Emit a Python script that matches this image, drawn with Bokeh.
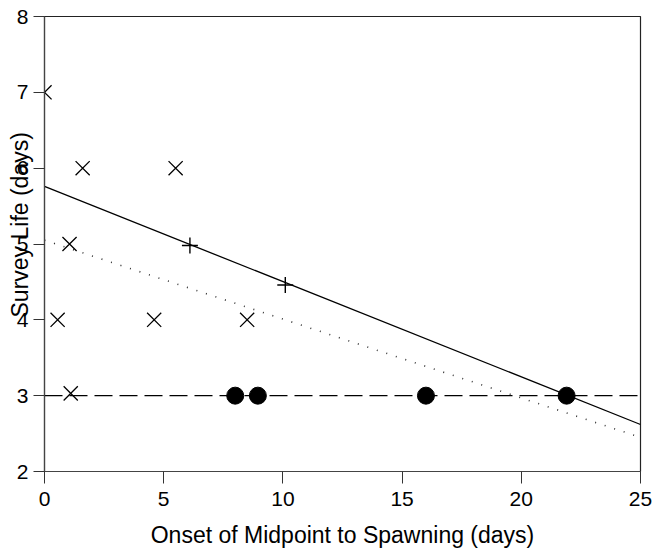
from bokeh.plotting import figure
from bokeh.models import Range1d, FixedTicker
from bokeh.embed import file_html
from bokeh.resources import INLINE

# Observed survey life versus onset of midpoint to spawning
cross_x = [0.0, 1.6, 5.5, 1.05, 0.55, 4.6, 8.5, 1.1]
cross_y = [7.0, 6.0, 6.0, 5.0, 4.0, 4.0, 4.0, 3.03]

plus_x = [6.1, 10.1]
plus_y = [4.98, 4.46]

dot_x = [8.0, 8.95, 16.0, 21.9]
dot_y = [3.0, 3.0, 3.0, 3.0]

# Fitted lines (values at the ends of the x range)
fit_x = [0, 25]
solid_y = [5.76, 2.62]
dotted_y = [5.05, 2.45]
dashed_y = [3.0, 3.0]

x_ticks = [0, 5, 10, 15, 20, 25]
y_ticks = [2, 3, 4, 5, 6, 7, 8]

FONT = "Liberation Sans"

p = figure(width=656, height=555, output_backend="svg", toolbar_location=None,
           x_range=Range1d(0, 25), y_range=Range1d(2, 8),
           min_border_left=44, min_border_right=16, min_border_top=16,
           min_border_bottom=84)
p.background_fill_color = "white"
p.border_fill_color = "white"
p.grid.visible = False
p.outline_line_color = "#222222"
p.outline_line_width = 1.2

for ax in (p.xaxis[0], p.yaxis[0]):
    ax.axis_line_color = "#444444"
    ax.axis_line_width = 1.2
    ax.major_tick_line_color = "#333333"
    ax.major_tick_in = 0
    ax.minor_tick_line_color = None
    ax.major_label_text_font = FONT
    ax.major_label_text_font_size = "21px"
    ax.major_label_text_color = "black"
    ax.axis_label_text_font = FONT
    ax.axis_label_text_font_size = "23px"
    ax.axis_label_text_font_style = "normal"
    ax.axis_label_text_color = "black"

p.xaxis.ticker = FixedTicker(ticks=x_ticks)
p.yaxis.ticker = FixedTicker(ticks=y_ticks)
p.xaxis.major_tick_out = 12
p.yaxis.major_tick_out = 11
p.xaxis.major_label_standoff = 8
p.yaxis.major_label_standoff = 5
p.xaxis.axis_label = "Onset of Midpoint to Spawning (days)"
p.xaxis.axis_label_standoff = 13
p.yaxis.axis_label = "\u00a0" * 6 + "Survey Life (days)"
p.yaxis.axis_label_standoff = -19

# Regression lines
p.line(fit_x, dashed_y, line_color="black", line_width=1.1, line_dash="18 7")
p.line(fit_x, dotted_y, line_color="#333333", line_width=1.6, line_dash="1 9")
p.line(fit_x, solid_y, line_color="black", line_width=1.3)

# Points
p.scatter(cross_x, cross_y, marker="x", size=20, line_color="black", line_width=1.3)
p.scatter(plus_x, plus_y, marker="cross", size=16, line_color="black", line_width=1.4)
p.scatter(dot_x, dot_y, marker="circle", size=17, fill_color="black", line_color="black")

open("out.html", "w").write(file_html(p, INLINE))
